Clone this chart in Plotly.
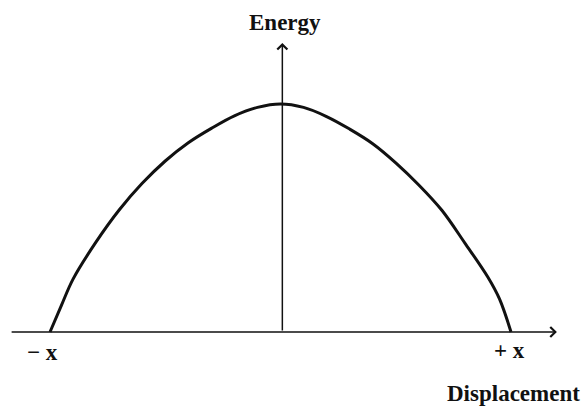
import plotly.graph_objects as go

# Data (displacement in units of x, energy normalised to peak)
displacement = [-1.0, -0.95, -0.9, -0.8, -0.7, -0.6, -0.5, -0.4, -0.3, -0.2, -0.1, 0.0,
                0.1, 0.2, 0.3, 0.4, 0.5, 0.6, 0.7, 0.8, 0.9, 0.95, 1.0]
energy = [0.0, 0.118, 0.232, 0.395, 0.535, 0.652, 0.75, 0.83, 0.893, 0.948, 0.985, 1.0,
          0.985, 0.945, 0.89, 0.826, 0.742, 0.645, 0.534, 0.39, 0.24, 0.145, 0.0]

x_axis_extent = [-1.173, 1.199]
y_axis_top = 1.268

left_label = "\u2212 x"
right_label = "+ x"
y_title = "Energy"
x_title = "Displacement"

W, H = 588, 406
INK = "#111111"
FONT = "Liberation Serif, Times New Roman, serif"

fig = go.Figure()
fig.add_trace(go.Scatter(x=displacement, y=energy, mode="lines",
                         line=dict(color=INK, width=3, shape="spline", smoothing=1),
                         hoverinfo="skip", showlegend=False))

# Horizontal axis with arrow
fig.add_annotation(x=x_axis_extent[1], y=0, ax=x_axis_extent[0], ay=0,
                   xref="x", yref="y", axref="x", ayref="y",
                   showarrow=True, arrowhead=4, arrowsize=1.3, arrowwidth=1.5,
                   arrowcolor=INK, text="")
# Vertical axis with arrow
fig.add_annotation(x=0.008, y=y_axis_top, ax=0.008, ay=0,
                   xref="x", yref="y", axref="x", ayref="y",
                   showarrow=True, arrowhead=4, arrowsize=1.3, arrowwidth=1.5,
                   arrowcolor=INK, text="")

def label(text, px, py, size=23):
    fig.add_annotation(x=px / W, y=1 - py / H, xref="paper", yref="paper",
                       text="<b>%s</b>" % text, showarrow=False,
                       xanchor="center", yanchor="middle",
                       font=dict(family=FONT, size=size, color=INK))

label(y_title, 285, 22)
label(left_label, 42, 352)
label(right_label, 509, 350)
label(x_title, 513, 393)

fig.update_layout(
    width=W, height=H, margin=dict(l=0, r=0, t=0, b=0),
    paper_bgcolor="white", plot_bgcolor="white",
    xaxis=dict(range=[(0 - 280.5) / 230.5, (W - 280.5) / 230.5], visible=False, fixedrange=True),
    yaxis=dict(range=[(332 - H) / 228, 332 / 228], visible=False, fixedrange=True),
)

fig.write_html("out.html", config={"displayModeBar": False},
               post_script="document.body.style.margin='0';document.body.style.overflow='hidden';")
